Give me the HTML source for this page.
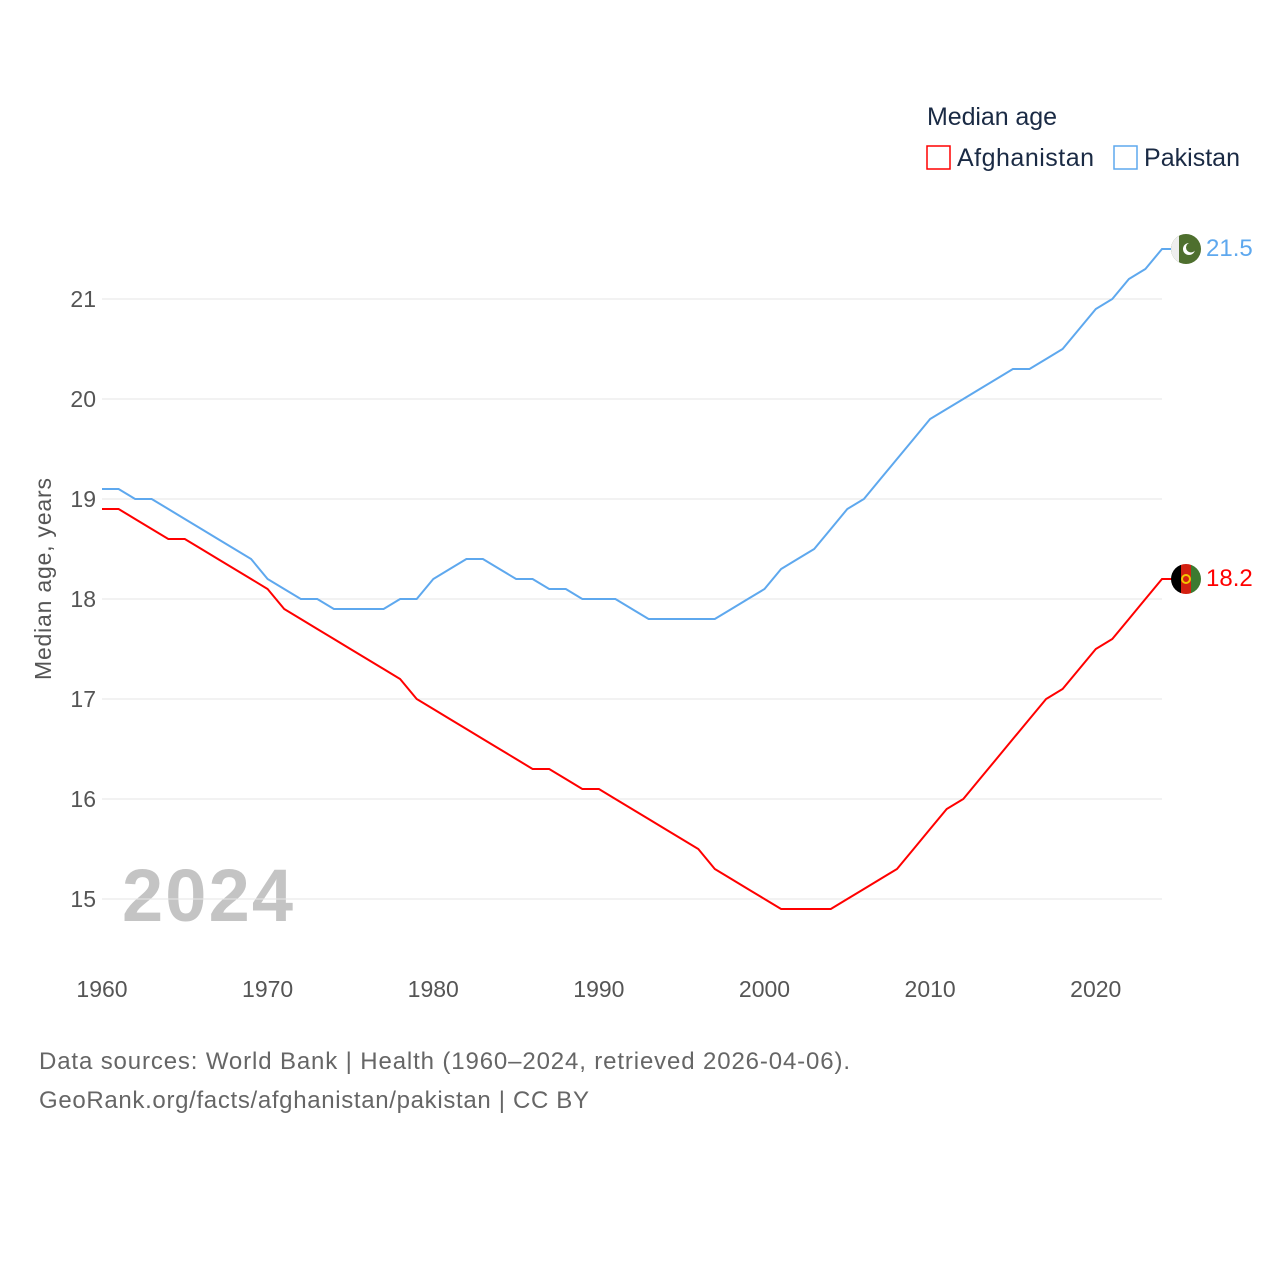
<!DOCTYPE html>
<html><head><meta charset="utf-8"><style>
body{margin:0;background:#fff;font-family:"Liberation Sans",sans-serif}
svg text{font-family:"Liberation Sans",sans-serif}
</style></head><body>
<svg id="c" width="1280" height="1280" xmlns="http://www.w3.org/2000/svg">
<text x="927" y="125" font-size="25" fill="#1a2a44" textLength="130">Median age</text>
<g><rect x="927" y="146" width="23" height="23" fill="none" stroke="#ff0000" stroke-width="1.5"/><text x="957" y="166" font-size="25" fill="#1a2a44" textLength="137">Afghanistan</text></g>
<g><rect x="1114" y="146" width="23" height="23" fill="none" stroke="#5ea8ee" stroke-width="1.5"/><text x="1144" y="166" font-size="25" fill="#1a2a44" textLength="96">Pakistan</text></g>
<text transform="translate(51,579) rotate(-90)" text-anchor="middle" font-size="23" fill="#555" textLength="202">Median age, years</text>
<text x="122" y="921" font-size="74" font-weight="bold" fill="#c4c4c4" textLength="171">2024</text>
<g id="grid"></g><g id="ticks"></g><g id="lines"></g>
<text x="39" y="1069" font-size="24" fill="#666" textLength="811">Data sources: World Bank | Health (1960–2024, retrieved 2026-04-06).</text>
<text x="39" y="1108" font-size="24" fill="#666" textLength="550">GeoRank.org/facts/afghanistan/pakistan | CC BY</text>
</svg>
<script>
const years=[];for(let y=1960;y<=2024;y++)years.push(y);
const afghanistan=[18.9,18.9,18.8,18.7,18.6,18.6,18.5,18.4,18.3,18.2,18.1,17.9,17.8,17.7,17.6,17.5,17.4,17.3,17.2,17.0,16.9,16.8,16.7,16.6,16.5,16.4,16.3,16.3,16.2,16.1,16.1,16.0,15.9,15.8,15.7,15.6,15.5,15.3,15.2,15.1,15.0,14.9,14.9,14.9,14.9,15.0,15.1,15.2,15.3,15.5,15.7,15.9,16.0,16.2,16.4,16.6,16.8,17.0,17.1,17.3,17.5,17.6,17.8,18.0,18.2];
const pakistan=[19.1,19.1,19.0,19.0,18.9,18.8,18.7,18.6,18.5,18.4,18.2,18.1,18.0,18.0,17.9,17.9,17.9,17.9,18.0,18.0,18.2,18.3,18.4,18.4,18.3,18.2,18.2,18.1,18.1,18.0,18.0,18.0,17.9,17.8,17.8,17.8,17.8,17.8,17.9,18.0,18.1,18.3,18.4,18.5,18.7,18.9,19.0,19.2,19.4,19.6,19.8,19.9,20.0,20.1,20.2,20.3,20.3,20.4,20.5,20.7,20.9,21.0,21.2,21.3,21.5];
const yTicks=[15,16,17,18,19,20,21];
const xTicks=[1960,1970,1980,1990,2000,2010,2020];
const X=y=>102+(y-1960)*(1162-102)/64;
const Y=v=>299+(21-v)*100;
const NS="http://www.w3.org/2000/svg";
function mk(t,a,p){const e=document.createElementNS(NS,t);for(const k in a)e.setAttribute(k,a[k]);p.appendChild(e);return e;}
const grid=document.getElementById('grid'),ticks=document.getElementById('ticks'),lines=document.getElementById('lines');
yTicks.forEach(v=>{
 const l=mk('line',{x1:102,x2:1162,y1:Y(v),y2:Y(v),stroke:'#e6e6e6','stroke-width':1},grid);
 
 
 const t=mk('text',{x:96,y:Y(v)+8,'text-anchor':'end','font-size':23,fill:'#555'},ticks);t.textContent=v;
 
 
});
xTicks.forEach(v=>{
 const t=mk('text',{x:X(v),y:997,'text-anchor':'middle','font-size':23,fill:'#555'},ticks);t.textContent=v;
 
 
});
function series(vals,color,name){
 let d=vals.map((v,i)=>(i?'L':'M')+X(years[i]).toFixed(1)+' '+Y(v).toFixed(1)).join(' ');
 const last=vals[vals.length-1];
 d+=' L'+(X(2024)+10)+' '+Y(last);
 const p=mk('path',{d:d,fill:'none',stroke:color,'stroke-width':2},lines);
 
 
 const g=mk('g',{},lines);
 
 
 const cx=1186,cy=Y(last);
 const cp=mk('clipPath',{id:'cl'+name},g);mk('circle',{cx:cx,cy:cy,r:15},cp);
 const gg=mk('g',{'clip-path':'url(#cl'+name+')'},g);
 if(name==='pakistan'){
  mk('rect',{x:cx-15,y:cy-15,width:30,height:30,fill:'#4e6f2e'},gg);
  mk('rect',{x:cx-15,y:cy-15,width:8,height:30,fill:'#eee'},gg);
  mk('circle',{cx:cx+3,cy:cy,r:6,fill:'#fff'},gg);mk('circle',{cx:cx+5,cy:cy-1.5,r:5,fill:'#4e6f2e'},gg);
 }else{
  mk('rect',{x:cx-15,y:cy-15,width:10,height:30,fill:'#000'},gg);
  mk('rect',{x:cx-5,y:cy-15,width:10,height:30,fill:'#d32011'},gg);
  mk('rect',{x:cx+5,y:cy-15,width:10,height:30,fill:'#3d7a30'},gg);
  mk('circle',{cx:cx,cy:cy,r:4,fill:'none',stroke:'#f2c500','stroke-width':2},gg);
 }
 const t=mk('text',{x:1206,y:cy+7,'font-size':24,fill:color},lines);t.textContent=last.toFixed(1);
 
 
}
series(afghanistan,'#ff0000','afghanistan');
series(pakistan,'#5ea8ee','pakistan');
</script>
</body></html>
